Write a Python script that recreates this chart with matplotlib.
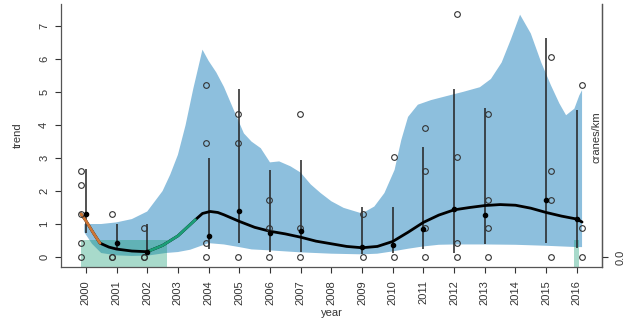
import numpy as np
import matplotlib
matplotlib.use("Agg")
import matplotlib.pyplot as plt

plt.rcParams['font.family'] = ['Liberation Sans', 'DejaVu Sans']

# survey years with observations
obs_years = [2000, 2001, 2002, 2004, 2005, 2006, 2007, 2009, 2010, 2011, 2012, 2013, 2015, 2016]

# cranes/km per transect, one list per year
obs_values = [
    [2.60, 2.17, 1.30, 0.43, 0.0],
    [1.30, 0.0, 0.0],
    [0.87, 0.0, 0.0],
    [5.21, 3.47, 0.43, 0.0],
    [4.34, 3.47, 0.0],
    [1.74, 0.87, 0.0],
    [4.34, 0.87, 0.0],
    [1.30, 0.0],
    [3.04, 0.0],
    [3.90, 2.60, 0.87, 0.0],
    [7.38, 3.04, 0.43, 0.0],
    [4.34, 1.74, 0.87, 0.0],
    [6.07, 2.60, 1.74, 0.0],
    [5.21, 0.87, 0.0],
]

# yearly estimates with interval
year_est = [1.31, 0.41, 0.16, 0.65, 1.40, 0.73, 0.80, 0.31, 0.35, 0.85, 1.47, 1.28, 1.73, 1.16]
year_lo = [0.72, 0.25, 0.14, 0.25, 0.43, 0.15, 0.15, 0.08, 0.12, 0.25, 0.13, 0.38, 0.43, 0.28]
year_hi = [2.68, 1.01, 1.01, 3.00, 5.11, 2.64, 2.94, 1.52, 1.52, 3.34, 5.09, 4.51, 6.64, 4.46]

# smoothed trend
trend_x = [1999.84, 2000.0, 2000.25, 2000.46, 2000.75, 2001.0, 2001.5, 2002.0, 2002.5,
           2003.0, 2003.57, 2003.8, 2004.05, 2004.3, 2004.5, 2005.0, 2005.5, 2006.0,
           2006.5, 2007.0, 2007.5, 2008.0, 2008.5, 2009.0, 2009.5, 2010.0, 2010.5,
           2011.0, 2011.5, 2012.0, 2012.5, 2013.0, 2013.5, 2014.0, 2014.5, 2015.0,
           2015.5, 2016.0, 2016.17]
trend_y = [1.31, 1.10, 0.72, 0.42, 0.30, 0.24, 0.18, 0.16, 0.35,
           0.64, 1.13, 1.32, 1.38, 1.35, 1.28, 1.08, 0.90, 0.78,
           0.70, 0.60, 0.48, 0.40, 0.32, 0.28, 0.32, 0.47, 0.75,
           1.05, 1.27, 1.43, 1.50, 1.56, 1.59, 1.57, 1.48, 1.35,
           1.24, 1.15, 1.06]
decline = (1999.84, 2000.46)
rise = (2002.0, 2003.57)

# 95% band of the trend
upper_x = [1999.95, 2000.5, 2001.0, 2001.5, 2002.0, 2002.5, 2002.75, 2003.0, 2003.25,
           2003.5, 2003.8, 2004.0, 2004.25, 2004.5, 2004.82, 2005.15, 2005.4, 2005.7,
           2006.0, 2006.3, 2006.67, 2007.0, 2007.33, 2007.65, 2008.0, 2008.4, 2009.0,
           2009.4, 2009.73, 2010.06, 2010.28, 2010.5, 2010.82, 2011.25, 2011.75, 2012.3,
           2012.84, 2013.2, 2013.55, 2013.85, 2014.15, 2014.5, 2014.84, 2015.16, 2015.43,
           2015.65, 2015.92, 2016.08, 2016.17]
upper_y = [1.00, 1.00, 1.05, 1.15, 1.38, 2.00, 2.50, 3.10, 4.00,
           5.10, 6.29, 5.95, 5.60, 5.16, 4.46, 3.75, 3.50, 3.30,
           2.87, 2.90, 2.75, 2.56, 2.20, 1.94, 1.69, 1.49, 1.32,
           1.53, 1.94, 2.64, 3.55, 4.25, 4.62, 4.76, 4.88, 5.01,
           5.15, 5.40, 5.90, 6.60, 7.35, 6.78, 5.90, 5.20, 4.66,
           4.30, 4.50, 4.90, 5.06]
lower_x = [1999.95, 2000.2, 2000.5, 2001.0, 2001.5, 2002.0, 2002.6, 2003.0, 2003.4,
           2004.0, 2004.5, 2005.0, 2005.4, 2006.0, 2007.0, 2008.0, 2009.0, 2009.5,
           2010.0, 2010.5, 2011.0, 2011.5, 2012.0, 2013.0, 2014.0, 2015.0, 2016.0, 2016.17]
lower_y = [0.75, 0.40, 0.12, 0.05, 0.03, 0.04, 0.12, 0.15, 0.22,
           0.42, 0.38, 0.30, 0.23, 0.20, 0.14, 0.10, 0.08, 0.10,
           0.17, 0.25, 0.32, 0.37, 0.38, 0.38, 0.37, 0.34, 0.30, 0.30]

# periods flagged on the bottom strip
flag_periods = [(1999.84, 2002.64), (2015.92, 2016.08)]
flag_top = 0.53

year_ticks = list(range(2000, 2017))

fig = plt.figure(figsize=(6.27, 3.31), dpi=100)
ax = fig.add_axes([61 / 627, 1 - 266.7 / 331, (602 - 61) / 627, (266.7 - 4) / 331])
xlim = (1999.19, 2016.82)
ylim = (-0.295, 7.675)

ax.fill(np.concatenate([upper_x, lower_x[::-1]]),
        np.concatenate([upper_y, lower_y[::-1]]),
        color='#8dbfdd', lw=0, zorder=1)

for x0, x1 in flag_periods:
    ax.fill_between([x0, x1], ylim[0], flag_top, color='#1b9e77', alpha=0.38, lw=0, zorder=2)

ax.vlines(obs_years, year_lo, year_hi, color='#222222', lw=1.1, zorder=3)

tx = np.array(trend_x)
ty = np.array(trend_y)
ax.plot(tx, ty, color='black', lw=2.0, solid_capstyle='round', solid_joinstyle='round', zorder=4)
m = (tx >= decline[0]) & (tx <= decline[1])
ax.plot(tx[m], ty[m], color='#cc7535', lw=2.0, solid_capstyle='round', zorder=5)
m = (tx >= rise[0]) & (tx <= rise[1])
ax.plot(tx[m], ty[m], color='#1b9e77', lw=2.0, solid_capstyle='round', zorder=5)

# transect values sit on a slightly stretched time axis
for yr, vals in zip(obs_years, obs_values):
    ox = yr - 0.16 + 0.0206 * (yr - 2000)
    ax.plot([ox] * len(vals), vals, 'o', ms=4.1, mfc='none', mec='#333333', mew=0.8, zorder=6)

ax.plot(obs_years, year_est, 'o', ms=3.0, color='black', zorder=7)

ax.set_xlim(xlim)
ax.set_ylim(ylim)
ax.set_xticks(year_ticks)
ax.set_xticklabels([str(y) for y in year_ticks], rotation=90)
ax.set_yticks(range(0, 8))
ax.set_yticklabels([str(v) for v in range(0, 8)], rotation=90, va='center')
ax.tick_params(axis='both', labelsize=8, colors='#333333', length=4.5, width=0.8, pad=5)
ax.tick_params(axis='y', pad=4)
ax.set_xlabel('year', fontsize=8, color='#333333', labelpad=2)
ax.set_ylabel('trend', fontsize=8, color='#333333', labelpad=12)
for s in ['left', 'bottom', 'right']:
    ax.spines[s].set_color('#555555')
    ax.spines[s].set_linewidth(0.9)
ax.spines['top'].set_visible(False)

ax2 = ax.twinx()
ax2.set_ylim(ylim)
ax2.set_yticks([0])
ax2.set_yticklabels(['0.0'], rotation=90, va='center')
ax2.tick_params(axis='y', labelsize=8, colors='#333333', length=4.5, width=0.8, pad=5)
for s in ['left', 'bottom', 'top']:
    ax2.spines[s].set_visible(False)
ax2.spines['right'].set_color('#555555')
ax2.spines['right'].set_linewidth(0.9)
ax.text(0.9905, 0.494, 'cranes/km', transform=ax.transAxes, rotation=90,
        ha='center', va='center', fontsize=8, color='#333333', zorder=8)

fig.savefig('out.png', dpi=100)
